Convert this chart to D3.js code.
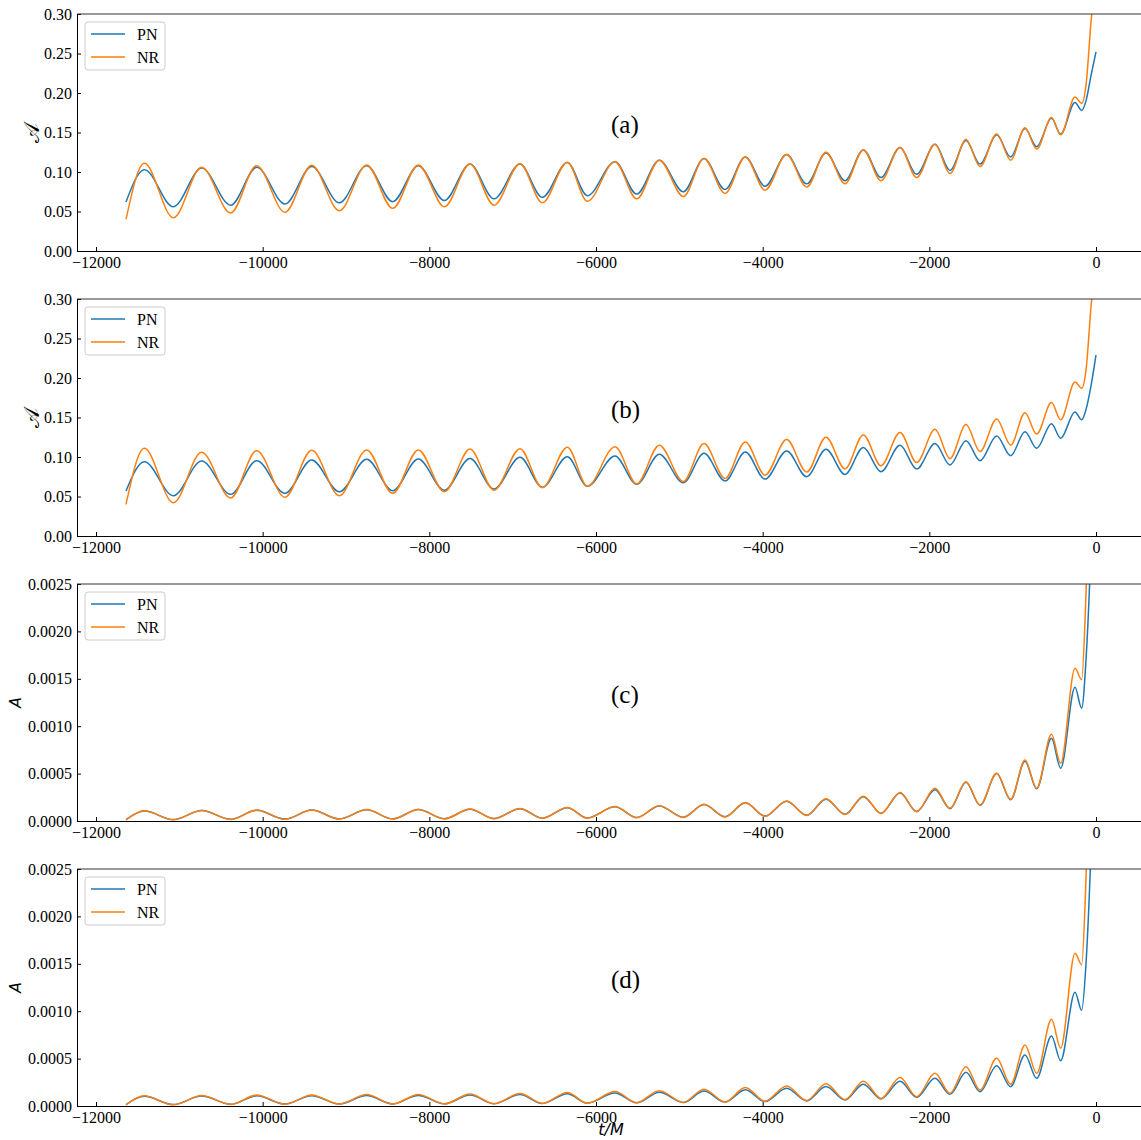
<!DOCTYPE html>
<html>
<head>
<meta charset="utf-8">
<script src="https://cdn.jsdelivr.net/npm/d3@7"></script>
<style>
  body { margin: 0; background: #fff; }
  svg { display: block; }
</style>
</head>
<body>
<svg width="1141" height="1140"></svg>
<script>
// times of the oscillation extrema (t/M)
const startT = -11640;
const peakT = [-11420, -10732, -10072, -9412, -8752, -8132, -7512, -6912, -6344, -5772, -5240, -4704,
  -4208, -3712, -3240, -2792, -2352, -1932, -1560, -1192, -852, -534, -252];
const troughT = [-11072, -10384, -9732, -9080, -8440, -7820, -7224, -6644, -6104, -5512, -4952, -4452,
  -3972, -3472, -3012, -2580, -2152, -1752, -1392, -1024, -712, -424, -172];
const riseT = [-120, -60, 0];

// panel (a): PN vs NR
const aPNStart = 0.062;
const aPNPeaks = [0.103, 0.105, 0.106, 0.107, 0.108, 0.108, 0.110, 0.110, 0.112, 0.113, 0.115, 0.117,
  0.119, 0.122, 0.124, 0.128, 0.131, 0.135, 0.140, 0.147, 0.155, 0.168, 0.188];
const aPNTroughs = [0.056, 0.058, 0.0595, 0.061, 0.0625, 0.064, 0.066, 0.068, 0.070, 0.072, 0.075, 0.078,
  0.082, 0.085, 0.089, 0.093, 0.097, 0.102, 0.110, 0.119, 0.132, 0.148, 0.178];
const aPNRise = [0.19, 0.222, 0.252];

const nrStart = 0.040;
const nrPeaks = [0.111, 0.106, 0.108, 0.1085, 0.109, 0.109, 0.110, 0.1105, 0.1125, 0.113, 0.115, 0.117,
  0.119, 0.122, 0.125, 0.128, 0.131, 0.135, 0.141, 0.148, 0.156, 0.169, 0.195];
const nrTroughs = [0.042, 0.048, 0.049, 0.051, 0.054, 0.056, 0.058, 0.061, 0.063, 0.066, 0.069, 0.073,
  0.077, 0.081, 0.085, 0.089, 0.093, 0.098, 0.107, 0.115, 0.129, 0.147, 0.187];
const nrRise = [0.21, 0.29, 0.36];

// panel (b)
const bPNStart = 0.057;
const bPNPeaks = [0.094, 0.095, 0.0953, 0.0962, 0.097, 0.0975, 0.098, 0.0996, 0.1004, 0.1013, 0.1034, 0.1046,
  0.1063, 0.1076, 0.1097, 0.112, 0.1148, 0.117, 0.1207, 0.1266, 0.132, 0.142, 0.157];
const bPNTroughs = [0.051, 0.0527, 0.054, 0.056, 0.0574, 0.058, 0.0595, 0.0616, 0.063, 0.0654, 0.0675, 0.0696,
  0.072, 0.075, 0.078, 0.0814, 0.0848, 0.090, 0.0953, 0.1017, 0.111, 0.1237, 0.147];
const bPNRise = [0.16, 0.19, 0.229];

// panels (c), (d): A
const nrAStart = 0.000012;
const nrAPeaks = [0.000108, 0.000112, 0.000115, 0.000117, 0.00012, 0.000122, 0.000126, 0.000132, 0.000143,
  0.000153, 0.000162, 0.000178, 0.000196, 0.000212, 0.000235, 0.000262, 0.0003, 0.000345, 0.000415,
  0.000503, 0.000643, 0.000914, 0.00161];
const nrATroughs = [0.000012, 0.000016, 0.000018, 0.00002, 0.000021, 0.000022, 0.000024, 0.000027, 0.00003,
  0.000034, 0.000038, 0.000043, 0.00005, 0.000058, 0.000068, 0.00008, 0.000098, 0.000134, 0.000169,
  0.000229, 0.000345, 0.000609, 0.00149];
const nrARise = [0.0024, 0.0042, 0.0065];

const cPNStart = 0.000015;
const cPNPeaks = [0.000105, 0.00011, 0.000113, 0.000115, 0.000118, 0.00012, 0.000124, 0.00013, 0.00014,
  0.00015, 0.000159, 0.000174, 0.000192, 0.000208, 0.00023, 0.000257, 0.000295, 0.00033, 0.00041,
  0.0005, 0.00063, 0.000872, 0.00141];
const cPNTroughs = [0.000015, 0.000018, 0.00002, 0.000022, 0.000023, 0.000024, 0.000026, 0.000029, 0.000032,
  0.000036, 0.00004, 0.000045, 0.000052, 0.00006, 0.00007, 0.000082, 0.0001, 0.00013, 0.000165,
  0.000225, 0.00034, 0.000556, 0.00119];
const cPNRise = [0.0017, 0.0029, 0.0048];

const dPNStart = 0.000015;
const dPNPeaks = [0.000102, 0.000105, 0.000107, 0.000108, 0.00011, 0.000112, 0.000115, 0.00012, 0.000128,
  0.000136, 0.000144, 0.000157, 0.000172, 0.000187, 0.000205, 0.00023, 0.00026, 0.000292, 0.000355,
  0.000425, 0.000538, 0.000738, 0.0012];
const dPNTroughs = [0.000015, 0.000018, 0.00002, 0.000021, 0.000022, 0.000023, 0.000025, 0.000027, 0.00003,
  0.000033, 0.000037, 0.000041, 0.000047, 0.000054, 0.000063, 0.000074, 0.000092, 0.000123, 0.000151,
  0.000204, 0.000292, 0.000478, 0.00101];
const dPNRise = [0.0015, 0.0027, 0.0045];

const xTicks = [-12000, -10000, -8000, -6000, -4000, -2000, 0];
const seriesNames = ["PN", "NR"];
const colors = ["#1f77b4", "#ff7f0e"];

const serif = "'Liberation Serif', 'Times New Roman', serif";

function buildSeries(start, peaks, troughs, rise) {
  const pts = [[startT, start]];
  peakT.forEach((t, i) => {
    pts.push([t, peaks[i]]);
    pts.push([troughT[i], troughs[i]]);
  });
  riseT.forEach((t, i) => pts.push([t, rise[i]]));
  return pts;
}

const panels = [
  { label: "(a)", yLabel: "\u{1D49C}", script: true, yMax: 0.30, yStep: 0.05, fmt: ".2f",
    pn: buildSeries(aPNStart, aPNPeaks, aPNTroughs, aPNRise),
    nr: buildSeries(nrStart, nrPeaks, nrTroughs, nrRise) },
  { label: "(b)", yLabel: "\u{1D49C}", script: true, yMax: 0.30, yStep: 0.05, fmt: ".2f",
    pn: buildSeries(bPNStart, bPNPeaks, bPNTroughs, bPNRise),
    nr: buildSeries(nrStart, nrPeaks, nrTroughs, nrRise) },
  { label: "(c)", yLabel: "A", script: false, yMax: 0.0025, yStep: 0.0005, fmt: ".4f",
    pn: buildSeries(cPNStart, cPNPeaks, cPNTroughs, cPNRise),
    nr: buildSeries(nrAStart, nrAPeaks, nrATroughs, nrARise) },
  { label: "(d)", yLabel: "A", script: false, yMax: 0.0025, yStep: 0.0005, fmt: ".4f",
    pn: buildSeries(dPNStart, dPNPeaks, dPNTroughs, dPNRise),
    nr: buildSeries(nrAStart, nrAPeaks, nrATroughs, nrARise) }
];

const svg = d3.select("svg");
const left = 77, right = 1145, panelH = 237;
const tops = [14, 299, 584, 869];

const x = d3.scaleLinear().domain([-12228, 588]).range([left, right]);

panels.forEach((p, i) => {
  const top = tops[i], bottom = top + panelH;
  const y = d3.scaleLinear().domain([0, p.yMax]).range([bottom, top]);
  const g = svg.append("g");

  const clipId = "clip" + i;
  svg.append("clipPath").attr("id", clipId)
    .append("rect").attr("x", left).attr("y", top).attr("width", right - left).attr("height", panelH);

  const line = d3.line().x((d) => x(d[0])).y((d) => y(d[1])).curve(d3.curveMonotoneX);

  g.append("g").attr("clip-path", `url(#${clipId})`)
    .selectAll("path")
    .data([p.pn, p.nr])
    .enter()
    .append("path")
    .attr("d", line)
    .attr("fill", "none")
    .attr("stroke", (d, k) => colors[k])
    .attr("stroke-width", 1.5);

  // axes, ticks pointing inward
  const xAxis = d3.axisBottom(x).tickValues(xTicks).tickSize(-4).tickPadding(6)
    .tickFormat(d3.format("d"));
  g.append("g").attr("transform", `translate(0,${bottom})`).call(xAxis)
    .attr("font-family", serif).attr("font-size", 16)
    .call((a) => a.select(".domain").remove());

  const yTicks = d3.range(0, p.yMax + p.yStep / 2, p.yStep);
  const yAxis = d3.axisLeft(y).tickValues(yTicks).tickSize(-4).tickPadding(5)
    .tickFormat(d3.format(p.fmt));
  g.append("g").attr("transform", `translate(${left},0)`).call(yAxis)
    .attr("font-family", serif).attr("font-size", 16)
    .call((a) => a.select(".domain").remove());

  // spines
  g.append("line").attr("x1", left).attr("x2", right).attr("y1", bottom + 0.5).attr("y2", bottom + 0.5)
    .attr("stroke", "#000");
  g.append("line").attr("x1", left).attr("x2", right).attr("y1", top).attr("y2", top)
    .attr("stroke", "#333");
  g.append("line").attr("x1", left + 0.5).attr("x2", left + 0.5).attr("y1", top).attr("y2", bottom + 1)
    .attr("stroke", "#000");

  // y label
  const yl = g.append("text")
    .attr("transform", `translate(${p.script ? 39 : 21},${(top + bottom) / 2}) rotate(-90)`)
    .attr("text-anchor", "middle")
    .text(p.yLabel);
  if (p.script) yl.attr("font-family", "'DejaVu Serif', serif").attr("font-size", 21);
  else yl.attr("font-family", "'DejaVu Sans', sans-serif").attr("font-style", "italic").attr("font-size", 16);

  // panel label
  g.append("text")
    .attr("x", (left + right) / 2)
    .attr("y", bottom - panelH / 2)
    .attr("font-family", serif)
    .attr("font-size", 25)
    .text(p.label);

  // legend
  const lg = g.append("g").attr("transform", `translate(85,${top + 8})`);
  lg.append("rect").attr("width", 80).attr("height", 48).attr("rx", 3)
    .attr("fill", "#fff").attr("fill-opacity", 0.8).attr("stroke", "#ccc");
  seriesNames.forEach((name, k) => {
    const yy = 12 + k * 23;
    lg.append("line").attr("x1", 6).attr("x2", 40).attr("y1", yy).attr("y2", yy)
      .attr("stroke", colors[k]).attr("stroke-width", 1.5);
    lg.append("text").attr("x", 52).attr("y", yy + 5.5)
      .attr("font-family", serif).attr("font-size", 16)
      .text(name);
  });
});

svg.append("text")
  .attr("x", 611).attr("y", 1135)
  .attr("text-anchor", "middle")
  .attr("font-family", "'DejaVu Sans', sans-serif")
  .attr("font-style", "italic")
  .attr("font-size", 16)
  .text("t/M");
</script>
</body>
</html>
